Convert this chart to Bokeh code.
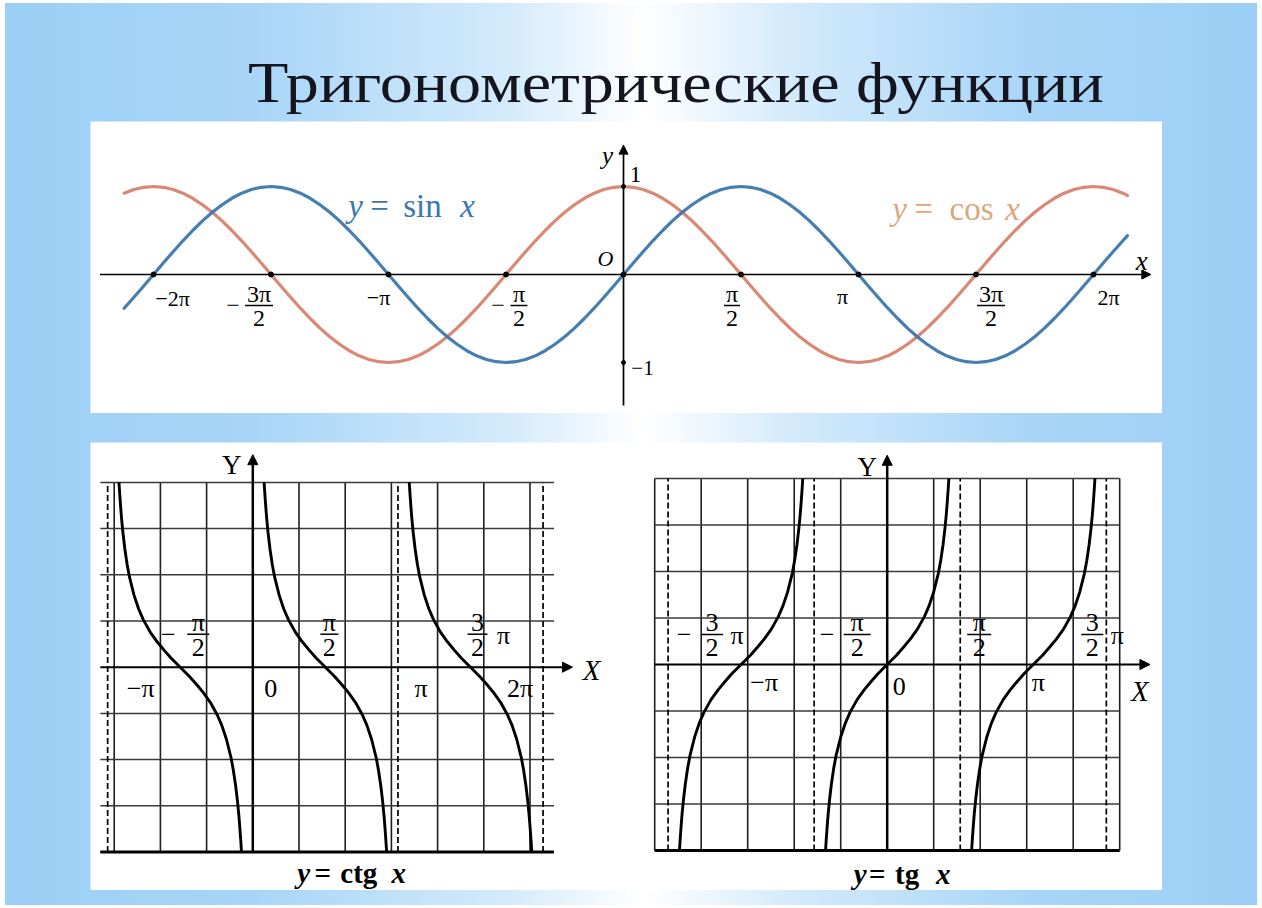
import numpy as np
from bokeh.plotting import figure
from bokeh.layouts import column, row
from bokeh.models import Div, Arrow, NormalHead, Range1d
from bokeh.embed import file_html
from bokeh.resources import INLINE
from bokeh.core.properties import value

PI = np.pi

# ---------------- data ----------------
TITLE = "Тригонометрические функции"

angle_deg = [7.5 * j for j in range(-51, 52)] + [386]
sin_vals = [-0.383, -0.259, -0.131,
            0, 0.131, 0.259, 0.383, 0.5, 0.609, 0.707, 0.793, 0.866, 0.924, 0.966, 0.991,
            1, 0.991, 0.966, 0.924, 0.866, 0.793, 0.707, 0.609, 0.5, 0.383, 0.259, 0.131,
            0, -0.131, -0.259, -0.383, -0.5, -0.609, -0.707, -0.793, -0.866, -0.924, -0.966, -0.991,
            -1, -0.991, -0.966, -0.924, -0.866, -0.793, -0.707, -0.609, -0.5, -0.383, -0.259, -0.131,
            0, 0.131, 0.259, 0.383, 0.5, 0.609, 0.707, 0.793, 0.866, 0.924, 0.966, 0.991,
            1, 0.991, 0.966, 0.924, 0.866, 0.793, 0.707, 0.609, 0.5, 0.383, 0.259, 0.131,
            0, -0.131, -0.259, -0.383, -0.5, -0.609, -0.707, -0.793, -0.866, -0.924, -0.966, -0.991,
            -1, -0.991, -0.966, -0.924, -0.866, -0.793, -0.707, -0.609, -0.5, -0.383, -0.259, -0.131,
            0, 0.131, 0.259, 0.383,
            0.441]
cos_vals = [0.924, 0.966, 0.991,
            1, 0.991, 0.966, 0.924, 0.866, 0.793, 0.707, 0.609, 0.5, 0.383, 0.259, 0.131,
            0, -0.131, -0.259, -0.383, -0.5, -0.609, -0.707, -0.793, -0.866, -0.924, -0.966, -0.991,
            -1, -0.991, -0.966, -0.924, -0.866, -0.793, -0.707, -0.609, -0.5, -0.383, -0.259, -0.131,
            0, 0.131, 0.259, 0.383, 0.5, 0.609, 0.707, 0.793, 0.866, 0.924, 0.966, 0.991,
            1, 0.991, 0.966, 0.924, 0.866, 0.793, 0.707, 0.609, 0.5, 0.383, 0.259, 0.131,
            0, -0.131, -0.259, -0.383, -0.5, -0.609, -0.707, -0.793, -0.866, -0.924, -0.966, -0.991,
            -1, -0.991, -0.966, -0.924, -0.866, -0.793, -0.707, -0.609, -0.5, -0.383, -0.259, -0.131,
            0, 0.131, 0.259, 0.383, 0.5, 0.609, 0.707, 0.793, 0.866, 0.924, 0.966, 0.991,
            1, 0.991, 0.966, 0.924,
            0.898]

top_ticks_pi = [-2, -1.5, -1, -0.5, 0, 0.5, 1, 1.5, 2]
top_y_ticks = [1, -1]

# one branch of tg x around its zero (offset from centre, value), clipped at |y| = 4
branch_offset = [-1.326, -1.31, -1.29, -1.27, -1.24, -1.2, -1.15, -1.1, -1.0, -0.9, -0.8,
                 -0.65, -0.5, -0.35, -0.2, 0, 0.2, 0.35, 0.5, 0.65, 0.8, 0.9, 1.0, 1.1,
                 1.15, 1.2, 1.24, 1.27, 1.29, 1.31, 1.326]
branch_value = [-4.0, -3.75, -3.47, -3.22, -2.91, -2.57, -2.23, -1.96, -1.56, -1.26, -1.03,
                -0.76, -0.55, -0.37, -0.2, 0, 0.2, 0.37, 0.55, 0.76, 1.03, 1.26, 1.56, 1.96,
                2.23, 2.57, 2.91, 3.22, 3.47, 3.75, 4.0]

tan_centers_pi = [-1, 0, 1]
cot_centers_pi = [-0.5, 0.5, 1.5]
tan_asymptotes_pi = [-1.5, -0.5, 0.5, 1.5]
cot_asymptotes_pi = [-1, 1, 2]

cot_grid_x = [-3, -2, -1, 1, 2, 3, 4, 5, 6]
tan_grid_x = [-5, -4, -3, -2, -1, 1, 2, 3, 4, 5]
grid_y = [-4, -3, -2, -1, 1, 2, 3, 4]
cot_x_extent = [-3.3, 6.52]
tan_x_extent = [-5.0, 5.0]

# ---------------- styling ----------------
SERIF = "Liberation Serif"
BLUE = "#3b78ad"
ORANGE = "#d8826c"
COSC = "#dba77c"


def make_fig(w, h, xr, yr):
    p = figure(width=w, height=h, x_range=Range1d(*xr), y_range=Range1d(*yr),
               x_axis_type=None, y_axis_type=None, toolbar_location=None,
               output_backend="svg", min_border=0, outline_line_color=None,
               background_fill_color="white", border_fill_color="white")
    p.grid.visible = False
    return p


class Labeler:
    def __init__(self, p, sx, sy):
        self.p, self.sx, self.sy = p, sx, sy

    def text(self, x, y, txt, dx=0, dy=0, size=20, style="normal", color="black",
             align="center", font=SERIF):
        self.p.text(x=[x + dx / self.sx], y=[y - dy / self.sy], text=[txt],
                    text_font=value(font), text_font_size=f"{size}px",
                    text_font_style=style, text_color=color, text_align=align,
                    text_baseline="middle")

    def bar(self, x, y, dx, dy, w, lw=1.5):
        self.p.segment(x0=[x + (dx - w / 2) / self.sx], x1=[x + (dx + w / 2) / self.sx],
                       y0=[y - dy / self.sy], y1=[y - dy / self.sy],
                       line_color="black", line_width=lw)

    def frac(self, x, num, den, dx, dy, w, size=22, minus_dx=None, pi_dx=None, gap=12):
        self.text(x, 0, num, dx=dx, dy=dy - gap, size=size)
        self.bar(x, 0, dx, dy, w)
        self.text(x, 0, den, dx=dx, dy=dy + gap + 1, size=size)
        if minus_dx is not None:
            self.text(x, 0, "−", dx=minus_dx, dy=dy, size=size)
        if pi_dx is not None:
            self.text(x, 0, "π", dx=pi_dx, dy=dy + 1, size=size)


def arrow(p, xs, ys, xe, ye, lw=1.6, size=9):
    p.add_layout(Arrow(end=NormalHead(size=size, line_color="black", fill_color="black"),
                       x_start=xs, y_start=ys, x_end=xe, y_end=ye,
                       line_color="black", line_width=lw))


# ---------------- top: sin / cos ----------------
SX, SY = 74.8, 88.0
OX, OY = 533, 153          # origin position inside the panel (px)
TW, TH = 1072, 292
top = make_fig(TW, TH, (-OX / SX, (TW - OX) / SX), (-(TH - OY) / SY, OY / SY))

ang = np.deg2rad(angle_deg)
top.line(ang, cos_vals, line_color=ORANGE, line_width=3.2, line_alpha=0.95,
         line_join="round", line_cap="round")
top.line(ang, sin_vals, line_color=BLUE, line_width=3.2, line_alpha=0.95,
         line_join="round", line_cap="round")

arrow(top, -7.0, 0, 7.05, 0, lw=1.7)
arrow(top, 0, -1.49, 0, 1.47, lw=1.7)
top.scatter([t * PI for t in top_ticks_pi], [0] * len(top_ticks_pi), size=5, color="black")
top.scatter([0, 0], top_y_ticks, size=4, color="black")

L = Labeler(top, SX, SY)
L.text(-2 * PI, 0, "−2π", dx=19, dy=24, size=22)
L.frac(-1.5 * PI, "3π", "2", dx=-12, dy=31, w=28, size=24, minus_dx=-38)
L.text(-PI, 0, "−π", dx=-10, dy=23, size=22)
L.frac(-0.5 * PI, "π", "2", dx=13, dy=31, w=17, size=24, minus_dx=-8)
L.frac(0.5 * PI, "π", "2", dx=-9, dy=31, w=16, size=24)
L.text(PI, 0, "π", dx=-16, dy=22, size=22)
L.frac(1.5 * PI, "3π", "2", dx=15, dy=31, w=28, size=24)
L.text(2 * PI, 0, "2π", dx=15, dy=23, size=22)
L.text(0, 0, "O", dx=-18, dy=-16, size=22, style="italic")
L.text(0, 1, "1", dx=12, dy=-12, size=23)
L.text(0, -1, "−1", dx=19, dy=5, size=21)
L.text(0, 1.47, "y", dx=-16, dy=10, size=25, style="italic")
L.text(7.05, 0, "x", dx=-9, dy=-14, size=27, style="italic")

L.text(0, 0, "y", dx=-268, dy=-69, size=33, style="italic", color=BLUE)
L.text(0, 0, "=", dx=-244, dy=-69, size=33, color=BLUE)
L.text(0, 0, "sin", dx=-201, dy=-69, size=33, color=BLUE)
L.text(0, 0, "x", dx=-156, dy=-69, size=33, style="italic", color=BLUE)

L.text(0, 0, "y", dx=276, dy=-66, size=33, style="italic", color=COSC)
L.text(0, 0, "=", dx=300, dy=-66, size=33, color=COSC)
L.text(0, 0, "cos", dx=348, dy=-66, size=33, color=COSC)
L.text(0, 0, "x", dx=389, dy=-66, size=33, style="italic", color=COSC)


# ---------------- bottom helpers ----------------
def grid_chart(p, gx, xext, asym_pi):
    p.segment(x0=gx, x1=gx, y0=[-4] * len(gx), y1=[4] * len(gx),
              line_color="#1e1e1e", line_width=1.6)
    p.segment(x0=[xext[0]] * len(grid_y), x1=[xext[1]] * len(grid_y), y0=grid_y, y1=grid_y,
              line_color="#3a3a3a", line_width=1.5)
    p.segment(x0=[xext[0]], x1=[xext[1]], y0=[-4], y1=[-4], line_color="black", line_width=3)
    ax = [a * PI for a in asym_pi]
    p.segment(x0=ax, x1=ax, y0=[-4] * len(ax), y1=[4] * len(ax),
              line_color="black", line_width=1.7, line_dash="6 3")


BW, BH = 536, 448

# ---------------- bottom left: ctg ----------------
S1 = 46.2
O1X, O1Y = 162.3, 224.7
left = make_fig(BW, BH, (-O1X / S1, (BW - O1X) / S1), (-(BH - O1Y) / S1, O1Y / S1))
grid_chart(left, cot_grid_x, cot_x_extent, cot_asymptotes_pi)
arrow(left, cot_x_extent[0], 0, 6.92, 0, lw=2, size=10)
arrow(left, 0, -4, 0, 4.6, lw=2.5, size=10)
for c in cot_centers_pi:
    left.line([c * PI + u for u in branch_offset], [-v for v in branch_value],
              line_color="black", line_width=2.9, line_join="round")

L1 = Labeler(left, S1, S1)
L1.frac(-0.5 * PI, "π", "2", dx=18, dy=-33, w=22, size=26, minus_dx=-12)
L1.frac(0.5 * PI, "π", "2", dx=4, dy=-33, w=18, size=26)
L1.frac(1.5 * PI, "3", "2", dx=7, dy=-33, w=20, size=26, pi_dx=33)
L1.text(-PI, 0, "−π", dx=33, dy=21, size=26)
L1.text(0, 0, "0", dx=18, dy=21, size=26)
L1.text(PI, 0, "π", dx=23, dy=21, size=26)
L1.text(2 * PI, 0, "2π", dx=-23, dy=21, size=26)
L1.text(6.92, 0, "X", dx=19, dy=3, size=29, style="italic")
L1.text(0, 4.6, "Y", dx=-21, dy=10, size=27)
L1.text(0, 0, "y", dx=51, dy=206, size=29, style="bold italic")
L1.text(0, 0, "=", dx=70, dy=206, size=29, style="bold")
L1.text(0, 0, "ctg", dx=106, dy=206, size=29, style="bold")
L1.text(0, 0, "x", dx=146, dy=206, size=29, style="bold italic")

# ---------------- bottom right: tg ----------------
S2 = 46.5
O2X, O2Y = 260.7, 222
right = make_fig(BW, BH, (-O2X / S2, (BW - O2X) / S2), (-(BH - O2Y) / S2, O2Y / S2))
grid_chart(right, tan_grid_x, tan_x_extent, tan_asymptotes_pi)
arrow(right, tan_x_extent[0], 0, 5.65, 0, lw=2, size=10)
arrow(right, 0, -4, 0, 4.5, lw=2.5, size=10)
for c in tan_centers_pi:
    right.line([c * PI + u for u in branch_offset], branch_value,
               line_color="black", line_width=2.9, line_join="round")

L2 = Labeler(right, S2, S2)
L2.frac(-1.5 * PI, "3", "2", dx=44, dy=-30, w=22, size=26, minus_dx=16, pi_dx=69)
L2.frac(-0.5 * PI, "π", "2", dx=43, dy=-30, w=27, size=26, minus_dx=13)
L2.frac(0.5 * PI, "π", "2", dx=19, dy=-30, w=24, size=26)
L2.frac(1.5 * PI, "3", "2", dx=-14, dy=-30, w=22, size=26, pi_dx=11)
L2.text(-PI, 0, "−π", dx=23, dy=18, size=26)
L2.text(0, 0, "0", dx=12, dy=22, size=26)
L2.text(PI, 0, "π", dx=5, dy=18, size=26)
L2.text(5.65, 0, "X", dx=-10, dy=26, size=29, style="italic")
L2.text(0, 4.5, "Y", dx=-20, dy=12, size=27)
L2.text(0, 0, "y", dx=-27, dy=209, size=29, style="bold italic")
L2.text(0, 0, "=", dx=-10, dy=209, size=29, style="bold")
L2.text(0, 0, "tg", dx=20, dy=209, size=29, style="bold")
L2.text(0, 0, "x", dx=56, dy=209, size=29, style="bold italic")

# ---------------- page ----------------
title = Div(text=(f"<div style=\"padding:52px 0 0 243px; line-height:1; white-space:nowrap\">"
                  f"<span style=\"display:inline-block; font-family:'{SERIF}'; font-size:56px; "
                  f"line-height:1; color:#15151f; transform:scaleX(1.18); "
                  f"transform-origin:left center\">{TITLE}</span></div>"),
            width=1252, height=118, margin=0)
top.margin = (0, 0, 0, 85)
bottom = row(left, right, margin=(29, 0, 0, 85))
gradient = ("linear-gradient(90deg, #9ccff6 0%, #a8d5f7 20%, #d3eafb 40%, #ffffff 51%, "
            "#d3eafb 63%, #a8d5f7 82%, #9ccff6 100%)")
page = column(title, top, bottom, width=1252, height=902, margin=(3, 5, 3, 5),
              styles={"background": gradient})

open("out.html", "w").write(file_html(page, INLINE))
